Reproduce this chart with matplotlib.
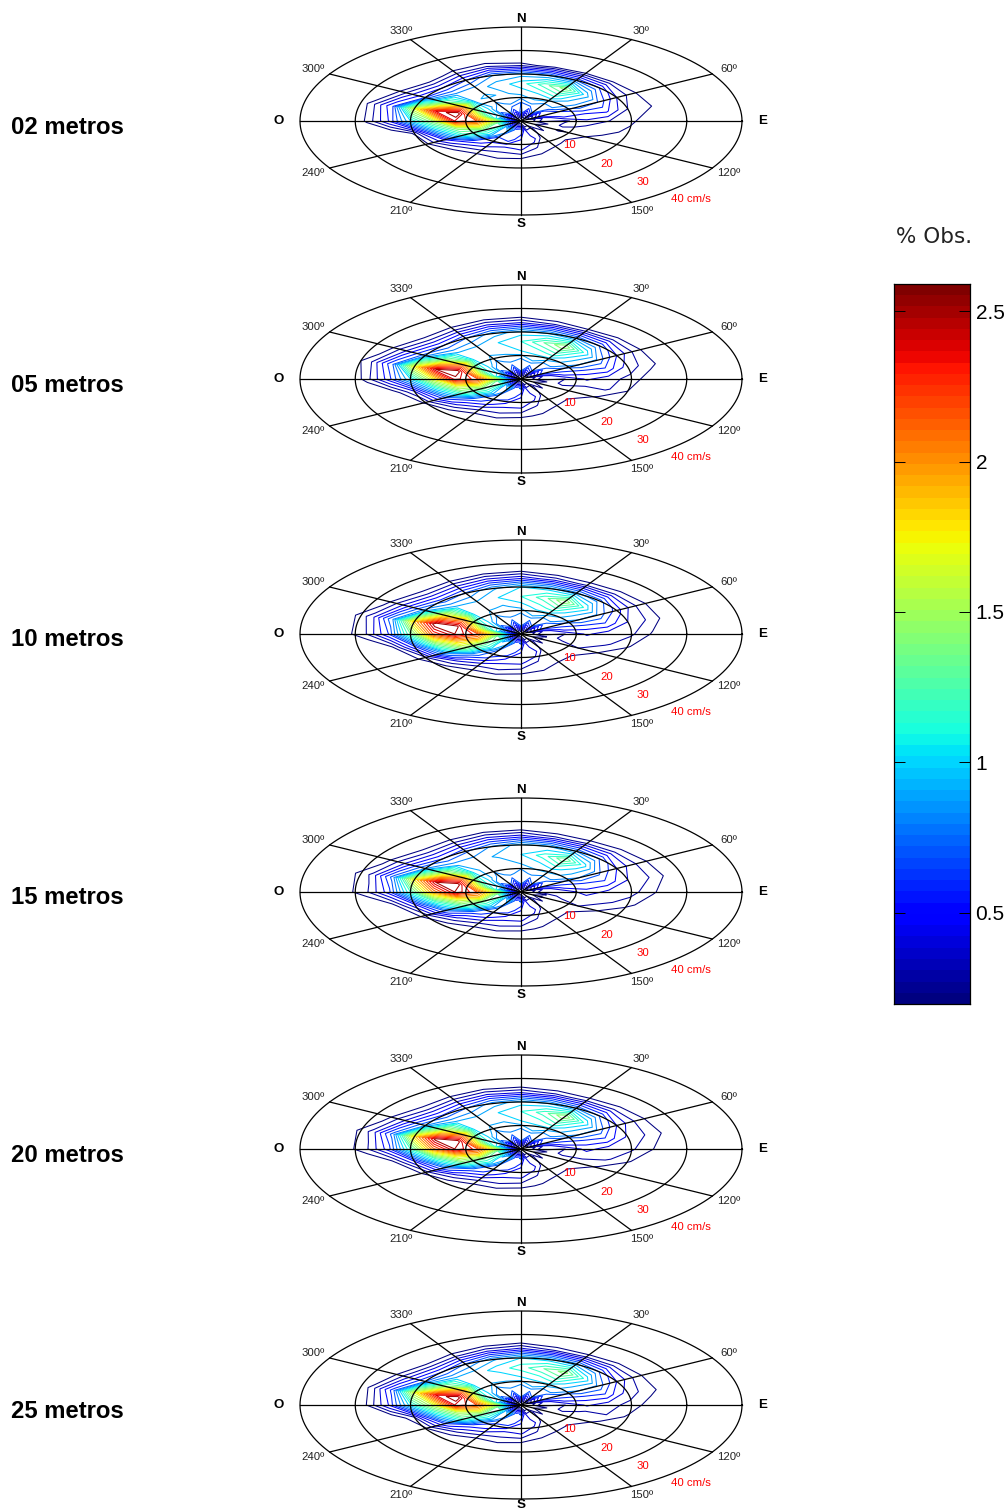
import numpy as np
import matplotlib
matplotlib.use("Agg")
import matplotlib.pyplot as plt

plt.rcParams['font.family'] = ['Liberation Sans', 'DejaVu Sans']

# direcciones (grados) y velocidades (cm/s) de la tabla
direcciones = [0, 15, 30, 45, 60, 75, 90, 105, 120, 135, 150, 165,
               180, 195, 210, 225, 240, 255, 270, 285, 300, 315, 330, 345]
velocidades = [0, 4, 8, 12, 16, 20, 24, 28, 32]

# % de observaciones, una fila por direccion
p02 = [
    [0, .75, .70, .95, 1.05, .85, .24, 0, 0],
    [0, .45, .85, 1.00, 1.25, .80, .15, 0, 0],
    [0, .70, .75, 1.10, 1.45, .70, .12, 0, 0],
    [0, .40, .80, .90, 1.00, .60, .15, 0, 0],
    [0, .55, .60, .75, .70, .40, .20, 0, 0],
    [0, .30, .55, .50, .52, .30, .22, .05, 0],
    [0, .35, .28, .38, .30, .24, .05, 0, 0],
    [0, .15, .34, .26, .27, .15, 0, 0, 0],
    [0, .28, .18, .24, .13, 0, 0, 0, 0],
    [0, .12, .30, .18, .10, 0, 0, 0, 0],
    [0, .36, .24, .22, .05, 0, 0, 0, 0],
    [0, .30, .46, .28, .15, 0, 0, 0, 0],
    [0, .70, .50, .42, .20, 0, 0, 0, 0],
    [0, .65, .68, .36, .22, .02, 0, 0, 0],
    [0, 1.00, .60, .44, .20, .02, 0, 0, 0],
    [0, .85, 1.00, .56, .27, .05, 0, 0, 0],
    [0, 1.20, 1.30, 1.15, .50, .15, 0, 0, 0],
    [0, 1.15, 1.80, 1.45, .92, .22, .02, 0, 0],
    [0, 1.50, 2.20, 2.40, 1.50, 1.00, .50, .22, 0],
    [0, .85, 1.75, 2.60, 2.40, 1.70, .60, .25, 0],
    [0, .95, 1.15, 2.00, 1.30, .60, .30, 0, 0],
    [0, .60, .95, .88, .85, .50, .15, 0, 0],
    [0, .75, .75, .92, .85, .60, .24, 0, 0],
    [0, .50, .85, .88, .95, .80, .30, 0, 0],
]
p05 = [
    [0, .80, .75, 1.00, 1.10, .95, .40, .05, 0],
    [0, .50, .90, 1.05, 1.30, .90, .30, 0, 0],
    [0, .70, .80, 1.15, 1.50, .80, .22, 0, 0],
    [0, .45, .85, .95, 1.10, .70, .25, 0, 0],
    [0, .60, .65, .80, .78, .50, .25, .05, 0],
    [0, .30, .55, .55, .57, .35, .25, .08, 0],
    [0, .38, .30, .42, .33, .27, .10, 0, 0],
    [0, .16, .35, .30, .32, .20, .05, 0, 0],
    [0, .30, .20, .27, .18, .05, 0, 0, 0],
    [0, .14, .30, .20, .12, 0, 0, 0, 0],
    [0, .38, .25, .24, .08, 0, 0, 0, 0],
    [0, .32, .46, .28, .18, 0, 0, 0, 0],
    [0, .72, .50, .42, .22, .02, 0, 0, 0],
    [0, .65, .68, .42, .26, .05, 0, 0, 0],
    [0, 1.00, .68, .54, .24, .05, 0, 0, 0],
    [0, .85, 1.05, .66, .37, .10, 0, 0, 0],
    [0, 1.20, 1.35, 1.25, .65, .22, .03, 0, 0],
    [0, 1.15, 1.85, 1.65, 1.05, .40, .10, 0, 0],
    [0, 1.50, 2.25, 2.45, 1.70, 1.00, .55, .25, .03],
    [0, .85, 1.75, 2.60, 2.50, 1.75, .70, .30, .10],
    [0, .95, 1.15, 2.00, 1.45, .75, .40, .10, 0],
    [0, .60, .95, .92, .90, .60, .25, 0, 0],
    [0, .75, .75, .92, .90, .70, .30, 0, 0],
    [0, .50, .85, .92, 1.00, .85, .38, .03, 0],
]
p10 = [
    [0, .80, .75, .95, 1.10, 1.00, .45, .08, 0],
    [0, .50, .90, 1.05, 1.25, .95, .35, .02, 0],
    [0, .72, .80, 1.15, 1.50, .85, .28, 0, 0],
    [0, .45, .85, .95, 1.10, .75, .30, .03, 0],
    [0, .60, .65, .80, .78, .55, .30, .10, 0],
    [0, .30, .55, .55, .57, .40, .28, .12, 0],
    [0, .38, .30, .42, .33, .32, .18, 0, 0],
    [0, .16, .36, .32, .32, .22, .06, 0, 0],
    [0, .32, .22, .30, .20, .08, 0, 0, 0],
    [0, .14, .30, .22, .14, 0, 0, 0, 0],
    [0, .38, .25, .27, .10, 0, 0, 0, 0],
    [0, .32, .50, .30, .20, .02, 0, 0, 0],
    [0, .72, .50, .44, .25, .05, 0, 0, 0],
    [0, .65, .70, .44, .29, .08, 0, 0, 0],
    [0, 1.00, .70, .58, .28, .08, 0, 0, 0],
    [0, .85, 1.10, .76, .42, .14, 0, 0, 0],
    [0, 1.20, 1.40, 1.45, .85, .28, .05, 0, 0],
    [0, 1.15, 1.95, 1.90, 1.40, .60, .15, 0, 0],
    [0, 1.50, 2.25, 2.50, 2.20, 1.30, .60, .30, .15],
    [0, .85, 1.75, 2.55, 2.60, 1.90, .80, .35, .15],
    [0, .95, 1.15, 2.00, 1.70, .85, .45, .15, 0],
    [0, .60, .95, .97, .95, .65, .30, .03, 0],
    [0, .75, .75, .92, .90, .72, .35, .03, 0],
    [0, .50, .85, .88, 1.00, .88, .42, .06, 0],
]
p15 = [
    [0, .80, .72, .90, 1.00, .95, .42, .06, 0],
    [0, .50, .85, .95, 1.15, .90, .32, .02, 0],
    [0, .72, .80, 1.05, 1.40, .80, .28, 0, 0],
    [0, .45, .85, .95, 1.05, .70, .30, .05, 0],
    [0, .60, .65, .80, .73, .50, .30, .12, 0],
    [0, .30, .55, .55, .57, .40, .30, .15, 0],
    [0, .38, .32, .47, .36, .34, .22, .05, 0],
    [0, .16, .37, .32, .32, .25, .10, 0, 0],
    [0, .32, .22, .30, .20, .08, 0, 0, 0],
    [0, .14, .30, .20, .12, 0, 0, 0, 0],
    [0, .38, .25, .24, .08, 0, 0, 0, 0],
    [0, .32, .46, .28, .18, 0, 0, 0, 0],
    [0, .72, .50, .42, .23, .02, 0, 0, 0],
    [0, .65, .68, .42, .26, .05, 0, 0, 0],
    [0, 1.00, .68, .54, .25, .06, 0, 0, 0],
    [0, .85, 1.05, .66, .37, .12, 0, 0, 0],
    [0, 1.20, 1.35, 1.25, .70, .25, .04, 0, 0],
    [0, 1.15, 1.90, 1.70, 1.20, .50, .12, 0, 0],
    [0, 1.50, 2.20, 2.50, 2.00, 1.20, .55, .28, .15],
    [0, .85, 1.75, 2.60, 2.50, 1.80, .75, .32, .16],
    [0, .95, 1.15, 2.00, 1.55, .80, .42, .15, 0],
    [0, .60, .95, .92, .90, .60, .28, .03, 0],
    [0, .75, .75, .87, .85, .68, .32, .03, 0],
    [0, .50, .85, .83, .92, .82, .40, .05, 0],
]
p20 = [
    [0, .80, .75, 1.00, 1.10, .95, .40, .06, 0],
    [0, .50, .90, 1.05, 1.25, .90, .32, .02, 0],
    [0, .72, .80, 1.15, 1.50, .80, .26, 0, 0],
    [0, .45, .85, .95, 1.10, .70, .28, .04, 0],
    [0, .60, .65, .80, .78, .50, .28, .10, 0],
    [0, .30, .55, .55, .57, .38, .28, .14, 0],
    [0, .38, .30, .44, .34, .32, .20, .03, 0],
    [0, .16, .35, .32, .32, .22, .08, 0, 0],
    [0, .30, .20, .27, .18, .05, 0, 0, 0],
    [0, .14, .30, .20, .12, 0, 0, 0, 0],
    [0, .38, .25, .24, .08, 0, 0, 0, 0],
    [0, .32, .46, .28, .18, 0, 0, 0, 0],
    [0, .72, .50, .42, .23, .03, 0, 0, 0],
    [0, .65, .68, .42, .27, .05, 0, 0, 0],
    [0, 1.00, .68, .56, .26, .06, 0, 0, 0],
    [0, .85, 1.08, .68, .38, .12, 0, 0, 0],
    [0, 1.20, 1.35, 1.30, .70, .24, .04, 0, 0],
    [0, 1.15, 1.90, 1.75, 1.20, .50, .12, 0, 0],
    [0, 1.50, 2.25, 2.50, 2.05, 1.20, .55, .28, .14],
    [0, .85, 1.75, 2.60, 2.55, 1.85, .75, .33, .14],
    [0, .95, 1.15, 2.00, 1.60, .80, .42, .14, 0],
    [0, .60, .95, .97, .95, .62, .28, .03, 0],
    [0, .75, .75, .92, .90, .70, .33, .03, 0],
    [0, .50, .85, .90, 1.00, .85, .40, .05, 0],
]
p25 = [
    [0, .80, .75, 1.00, 1.15, 1.00, .42, .05, 0],
    [0, .50, .90, 1.05, 1.30, .95, .30, 0, 0],
    [0, .72, .80, 1.15, 1.45, .85, .24, 0, 0],
    [0, .45, .85, .95, 1.10, .70, .26, .02, 0],
    [0, .60, .65, .80, .78, .50, .26, .06, 0],
    [0, .30, .55, .55, .57, .35, .25, .10, 0],
    [0, .38, .30, .42, .33, .27, .12, 0, 0],
    [0, .16, .35, .28, .30, .18, .03, 0, 0],
    [0, .30, .20, .27, .16, .03, 0, 0, 0],
    [0, .14, .30, .20, .10, 0, 0, 0, 0],
    [0, .38, .25, .24, .06, 0, 0, 0, 0],
    [0, .32, .46, .28, .15, 0, 0, 0, 0],
    [0, .72, .50, .42, .20, 0, 0, 0, 0],
    [0, .65, .68, .38, .23, .02, 0, 0, 0],
    [0, 1.00, .65, .48, .21, .03, 0, 0, 0],
    [0, .85, 1.00, .58, .32, .08, 0, 0, 0],
    [0, 1.20, 1.30, 1.20, .58, .18, 0, 0, 0],
    [0, 1.15, 1.83, 1.55, 1.00, .30, .05, 0, 0],
    [0, 1.50, 2.20, 2.40, 1.60, 1.05, .50, .20, 0],
    [0, .85, 1.75, 2.60, 2.40, 1.70, .65, .24, 0],
    [0, .95, 1.15, 2.00, 1.40, .70, .35, .05, 0],
    [0, .60, .95, .97, .95, .60, .22, 0, 0],
    [0, .75, .75, .97, .95, .72, .28, 0, 0],
    [0, .50, .85, .93, 1.05, .88, .36, .02, 0],
]

tablas = [p02, p05, p10, p15, p20, p25]
nombres = ['02 metros', '05 metros', '10 metros', '15 metros', '20 metros', '25 metros']
centros_y = [121, 379, 634, 892, 1149, 1405]  # pixeles

niveles = [.2, .3, .4, .5, .6, .7, .8, .9, 1.0, 1.1, 1.2, 1.3, 1.4,
           1.5, 1.6, 1.7, 1.8, 1.9, 2.0, 2.1, 2.2, 2.3, 2.4, 2.5, 2.6]
ticks_cb = [0.5, 1, 1.5, 2, 2.5]
angulos_txt = [30, 60, 120, 150, 210, 240, 300, 330]
anillos = [10, 20, 30, 40]

W, H = 1006, 1511
fig = plt.figure(figsize=(W / 100, H / 100), dpi=100)
cmap = plt.get_cmap('jet', 64)
vmin, vmax = 0.197, 2.59

rx, ry = 221, 94  # semiejes de la elipse en pixeles
t = np.linspace(0, 2 * np.pi, 361)

for tabla, nombre, cy in zip(tablas, nombres, centros_y):
    # un axes por profundidad, el circulo de 40 cm/s se ve como elipse
    ax = fig.add_axes([(521 - rx) / W, 1 - (cy + ry) / H, 2 * rx / W, 2 * ry / H])
    ax.set_xlim(-40, 40)
    ax.set_ylim(-40, 40)
    ax.axis('off')

    # cerrar la tabla repitiendo la primera direccion
    z = np.array(tabla, dtype=float)
    z = np.vstack([z, z[0]])
    th = np.radians(list(direcciones) + [360])
    r, a = np.meshgrid(velocidades, th)
    ax.contour(r * np.sin(a), r * np.cos(a), z, levels=niveles, cmap=cmap,
               vmin=vmin, vmax=vmax, linewidths=0.75, zorder=2)

    for c in anillos:
        ax.plot(c * np.cos(t), c * np.sin(t), color='k', lw=0.9, zorder=3, clip_on=False)
    for g in range(0, 180, 30):
        ang = np.radians(g)
        ax.plot([-40 * np.sin(ang), 40 * np.sin(ang)], [-40 * np.cos(ang), 40 * np.cos(ang)],
                color='k', lw=0.9, zorder=3, clip_on=False)

    # rotulos de rumbo
    for g in angulos_txt:
        ang = np.radians(g)
        ax.text(43.5 * np.sin(ang), 43.5 * np.cos(ang) * 1.02, '%dº' % g, fontsize=8.2,
                ha='center', va='center', color='#222222', clip_on=False)
    # en el ultimo panel la S queda pegada al borde
    y_s = -42.6 if cy == centros_y[-1] else -43.8
    ax.text(0, 43.6, 'N', fontsize=9.6, fontweight='bold', ha='center', va='center', clip_on=False)
    ax.text(0, y_s, 'S', fontsize=9.6, fontweight='bold', ha='center', va='center', clip_on=False)
    ax.text(42.9, 0, 'E', fontsize=9.6, fontweight='bold', ha='left', va='center', clip_on=False)
    ax.text(-43, 0, 'O', fontsize=9.6, fontweight='bold', ha='right', va='center', clip_on=False)

    # velocidades en rojo
    ax.text(8.7, -10.2, '10', color='r', fontsize=8.2, ha='center', va='center', zorder=4)
    ax.text(15.6, -18.3, '20', color='r', fontsize=8.2, ha='center', va='center', zorder=4)
    ax.text(22, -26, '30', color='r', fontsize=8.2, ha='center', va='center', zorder=4)
    ax.text(30.8, -33.2, '40 cm/s', color='r', fontsize=8.2, ha='center', va='center', zorder=4)

    fig.text(11 / W, 1 - (cy + 6) / H, nombre, fontsize=17.2, fontweight='bold',
             ha='left', va='center')

# barra de color
cax = fig.add_axes([894 / W, 1 - 1004 / H, 76 / W, 720 / H])
bordes = np.linspace(vmin, vmax, 65)
valores = 0.5 * (bordes[:-1] + bordes[1:]).reshape(-1, 1)
cax.pcolormesh([0, 1], bordes, valores, cmap=cmap, vmin=vmin, vmax=vmax)
cax.set_xticks([])
cax.set_yticks(ticks_cb)
cax.set_yticklabels(['0.5', '1', '1.5', '2', '2.5'], fontsize=15)
cax.tick_params(axis='y', direction='in', left=True, right=True, labelleft=False,
                labelright=True, length=8, width=0.7, pad=4)
for s in cax.spines.values():
    s.set_linewidth(0.9)
fig.text(896 / W, 1 - 237 / H, '% Obs.', fontsize=15.5, family='DejaVu Sans',
         ha='left', va='center', color='#222222')

fig.savefig('out.png', dpi=100)
